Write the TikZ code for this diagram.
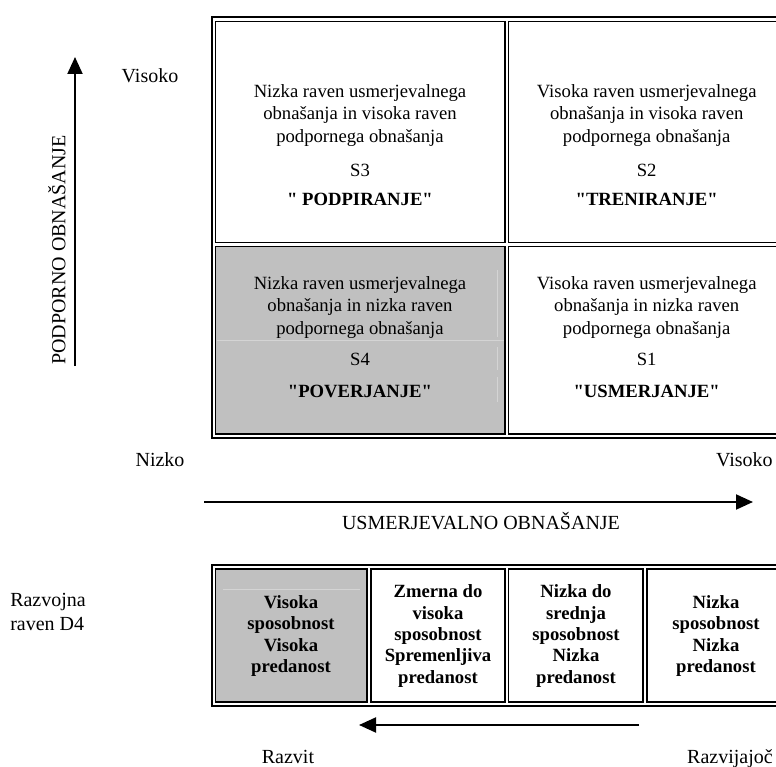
\documentclass[tikz,border=0pt]{standalone}
\usepackage{fontspec}
\setmainfont{Liberation Serif}[Ligatures=TeXOff]
\usetikzlibrary{arrows.meta}

\definecolor{cellgray}{HTML}{C0C0C0}
\definecolor{seamgray}{HTML}{D4D4D4}

\tikzset{
  outerframe/.style={draw=black, line width=1.9pt},
  cellframe/.style={draw=black, line width=1.1pt},
  graycell/.style={cellframe, fill=cellgray},
  seam/.style={draw=seamgray, line width=0.7pt},
  celltext/.style={font=\fontsize{14}{16.9}\selectfont, align=center, inner sep=0pt},
  stylecode/.style={font=\fontsize{14}{16.9}\selectfont, inner sep=0pt, anchor=base},
  stylename/.style={font=\fontsize{14}{16.9}\selectfont\bfseries, inner sep=0pt, anchor=base},
  devtext/.style={font=\fontsize{14}{16.1}\selectfont\bfseries, align=center, inner sep=0pt},
  axislabel/.style={font=\fontsize{15}{17.3}\selectfont, inner sep=0pt},
  axisarrow/.style={line width=1.5pt, -{Triangle[length=12.75pt,width=11.25pt]}},
}

\begin{document}
\begin{tikzpicture}[x=0.75pt, y=-0.75pt]
  \useasboundingbox (0,0) rectangle (776,767);
  \fill[white] (0,0) rectangle (776,767);
  \clip (0,0) rectangle (776,767);

  % ---- leadership style matrix ----
  \draw[outerframe] (212,17) rectangle (800,438);
  \draw[cellframe] (215.5,21.5) rectangle (505,242.5);
  \draw[cellframe] (508.5,21.5) rectangle (785,242.5);
  \draw[graycell]  (215.5,246.5) rectangle (505,434);
  \draw[cellframe] (508.5,246.5) rectangle (785,434);
  \draw[seam] (216.5,340) -- (504,340);
  \draw[seam] (497,270) -- (497,337);
  \draw[seam] (497,347) -- (497,370);
  \draw[seam] (497,377) -- (497,402);

  % S3
  \node[celltext] (s3desc) at (360,115.2)
    {Nizka raven usmerjevalnega\\obnašanja in visoka raven\\podpornega obnašanja};
  \node[stylecode] (s3code) at (360,177) {S3};
  \node[stylename] (s3name) at (360,205) {" PODPIRANJE"};

  % S2
  \node[celltext] (s2desc) at (646.7,115.2)
    {Visoka raven usmerjevalnega\\obnašanja in visoka raven\\podpornega obnašanja};
  \node[stylecode] (s2code) at (646.7,177) {S2};
  \node[stylename] (s2name) at (646.7,205) {"TRENIRANJE"};

  % S4
  \node[celltext] (s4desc) at (360,307.2)
    {Nizka raven usmerjevalnega\\obnašanja in nizka raven\\podpornega obnašanja};
  \node[stylecode] (s4code) at (360,365) {S4};
  \node[stylename] (s4name) at (360,397) {"POVERJANJE"};

  % S1
  \node[celltext] (s1desc) at (646.7,307.2)
    {Visoka raven usmerjevalnega\\obnašanja in nizka raven\\podpornega obnašanja};
  \node[stylecode] (s1code) at (646.7,365) {S1};
  \node[stylename] (s1name) at (646.7,397) {"USMERJANJE"};

  % ---- axes ----
  \coordinate (vtail) at (75,366);
  \coordinate (vhead) at (75,57);
  \draw[axisarrow] (vtail) -- (vhead);
  \node[axislabel, rotate=90] (supportlabel) at (57,250) {PODPORNO OBNAŠANJE};
  \node[axislabel, anchor=base] (supporthigh) at (150,83) {Visoko};

  \node[axislabel, anchor=base] (directlow) at (160,466) {Nizko};
  \node[axislabel, anchor=base east] (directhigh) at (773,466) {Visoko};
  \coordinate (htail) at (204,502);
  \coordinate (hhead) at (753,502);
  \draw[axisarrow] (htail) -- (hhead);
  \node[axislabel, anchor=base] (directlabel) at (481,529) {USMERJEVALNO OBNAŠANJE};

  % ---- development levels ----
  \node[axislabel, align=left, anchor=west] (devlabel) at (10,612) {Razvojna\\raven D4};
  \draw[outerframe] (212,565) rectangle (800,706);
  \draw[graycell]  (215.5,569) rectangle (367,702);
  \draw[cellframe] (371,569) rectangle (505,702);
  \draw[cellframe] (508.5,569) rectangle (643,702);
  \draw[cellframe] (647,569) rectangle (785,702);
  \draw[seam] (223,589) -- (360,589);

  \node[devtext] (d4) at (291,636) {Visoka\\sposobnost\\Visoka\\predanost};
  \node[devtext] (d3) at (438,636) {Zmerna do\\visoka\\sposobnost\\Spremenljiva\\predanost};
  \node[devtext] (d2) at (576,636) {Nizka do\\srednja\\sposobnost\\Nizka\\predanost};
  \node[devtext] (d1) at (716,636) {Nizka\\sposobnost\\Nizka\\predanost};

  \coordinate (dtail) at (639,725);
  \coordinate (dhead) at (359,725);
  \draw[axisarrow] (dtail) -- (dhead);
  \node[axislabel, anchor=base] (devdone) at (288,763) {Razvit};
  \node[axislabel, anchor=base east] (devgoing) at (773,763) {Razvijajoč};
\end{tikzpicture}
\end{document}
